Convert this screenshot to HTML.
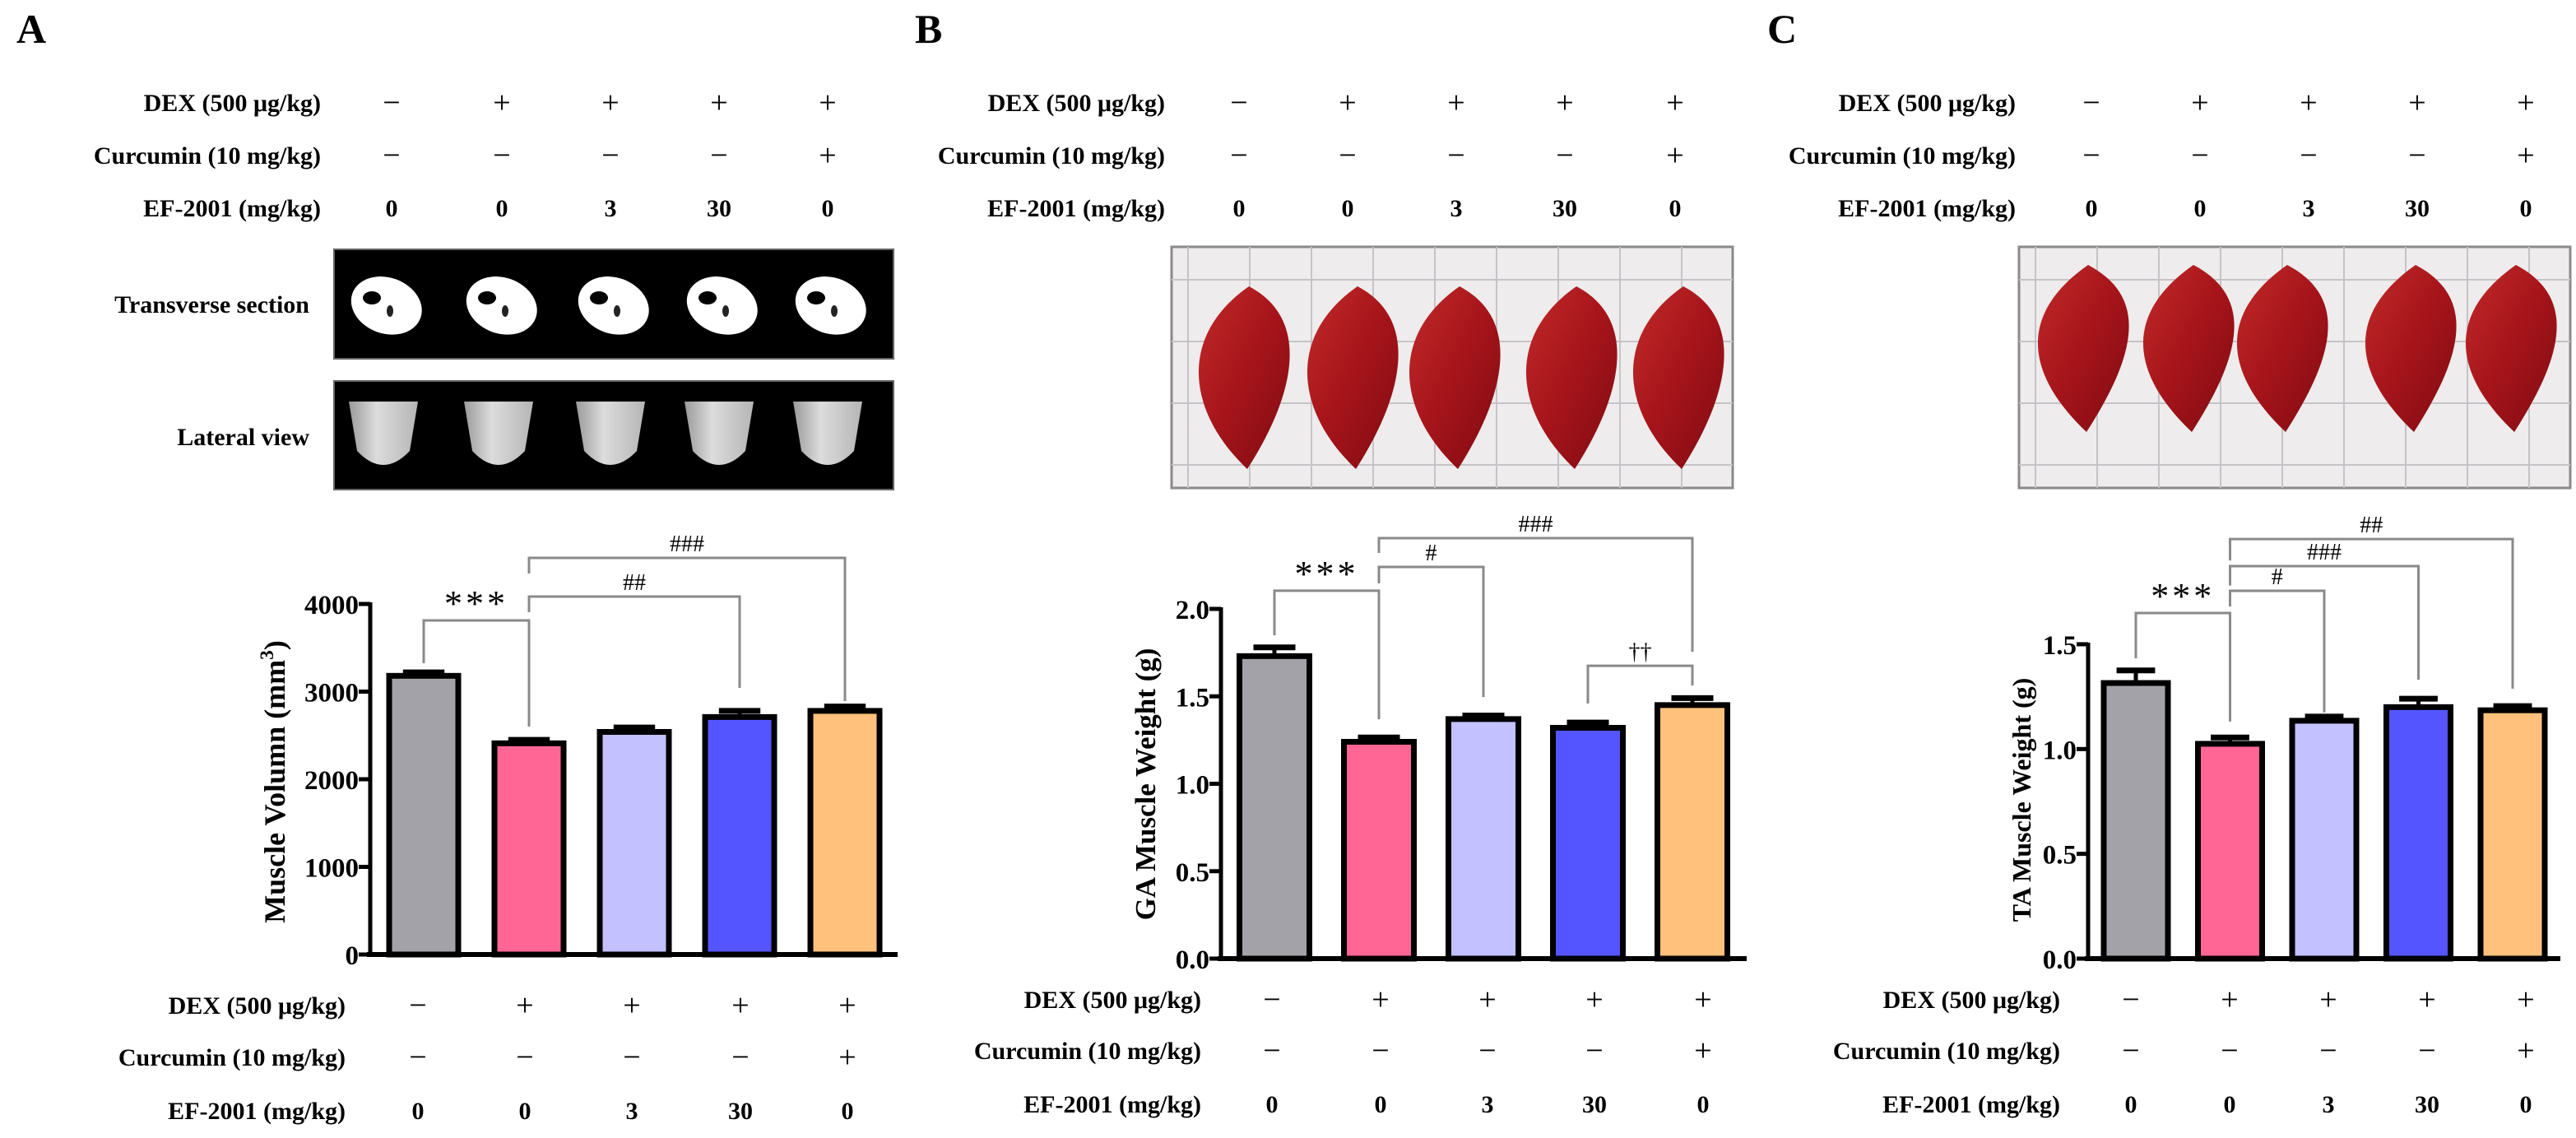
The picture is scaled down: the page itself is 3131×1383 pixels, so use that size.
<!DOCTYPE html>
<html><head><meta charset="utf-8"><style>
html,body{margin:0;padding:0;background:#fff;}
svg{display:block;}
text{font-family:"Liberation Serif",serif;}
</style></head>
<body>
<svg id="fig" width="3131" height="1383" viewBox="0 0 3131 1383" xmlns="http://www.w3.org/2000/svg">
<defs>
<linearGradient id="meat" x1="0" y1="0" x2="1" y2="1"><stop offset="0" stop-color="#c22a2a"/><stop offset="0.5" stop-color="#a5141a"/><stop offset="1" stop-color="#7e0c12"/></linearGradient>
<linearGradient id="cup" x1="0" y1="0" x2="1" y2="0"><stop offset="0" stop-color="#9a9a9a"/><stop offset="0.4" stop-color="#dcdcdc"/><stop offset="1" stop-color="#b5b5b5"/></linearGradient>
</defs>
<g id="static"></g>
<g id="charts"></g>
</svg>
<script>
// ===== Chart data =====
const groups = ["Control","DEX","DEX+EF3","DEX+EF30","DEX+Curcumin"];
const barColors = ["#a3a2a8","#ff6696","#c3c1ff","#5555ff","#ffc17c"];
const dexRow = ["\u2212","+","+","+","+"];
const curRow = ["\u2212","\u2212","\u2212","\u2212","+"];
const efRow = ["0","0","3","30","0"];

const volumeMeans = [3180, 2410, 2540, 2710, 2780];
const volumeErrs = [40, 40, 50, 70, 50];
const volumeTicks = [0, 1000, 2000, 3000, 4000];
const volumeTickLabels = ["0","1000","2000","3000","4000"];

const gaMeans = [1.73, 1.24, 1.37, 1.32, 1.45];
const gaErrs = [0.05, 0.025, 0.02, 0.03, 0.04];
const gaTicks = [0, 0.5, 1.0, 1.5, 2.0];
const gaTickLabels = ["0.0","0.5","1.0","1.5","2.0"];

const taMeans = [1.315, 1.025, 1.135, 1.20, 1.185];
const taErrs = [0.06, 0.03, 0.02, 0.04, 0.02];
const taTicks = [0, 0.5, 1.0, 1.5];
const taTickLabels = ["0.0","0.5","1.0","1.5"];

const volumeBrackets = [[0,1,3812,3324,2601,"***"],[1,3,4085,3906,3042,"##"],[1,4,4526,4347,2892,"###"]];
const gaBrackets = [[0,1,2.104,1.849,1.369,"***"],[1,2,2.24,2.146,1.496,"#"],[1,4,2.405,2.32,1.755,"###"],[3,4,1.675,1.459,1.562,"\u2020\u2020"]];
const taBrackets = [[0,1,1.649,1.433,1.131,"***"],[1,2,1.755,1.68,1.175,"#"],[1,3,1.873,1.78,1.331,"###"],[1,4,2.002,1.90,1.288,"##"]];

const NS = "http://www.w3.org/2000/svg";
function mk(parent, tag, attrs, txt){
  const e = document.createElementNS(NS, tag);
  for (const k in attrs) e.setAttribute(k, attrs[k]);
  if (txt !== undefined) e.textContent = txt;
  parent.appendChild(e);
  return e;
}
const st = document.getElementById("static");
const ch = document.getElementById("charts");

[["A",20],["B",1112],["C",2148]].forEach(([l,x])=>{
  const t = mk(st,"text",{x:x,y:52,"font-size":50,"font-weight":"bold"},l);
  
  
});

function table(labelRight, cols, rows, name){
  const g = mk(st,"g",{});
  
  
  const labels = ["DEX (500 \u03bcg/kg)","Curcumin (10 mg/kg)","EF-2001 (mg/kg)"];
  const data = [dexRow, curRow, efRow];
  rows.forEach((y,ri)=>{
    mk(g,"text",{x:labelRight,y:y+10,"font-size":30,"font-weight":"bold","text-anchor":"end"},labels[ri]);
    cols.forEach((x,ci)=>{
      const v = data[ri][ci];
      const isSign = (v==="+"||v==="\u2212");
      mk(g,"text",{x:x,y:y+(isSign?12:10),"font-size":isSign?38:30,"font-weight":isSign?"normal":"bold","text-anchor":"middle","font-family":isSign?"Liberation Sans, sans-serif":"Liberation Serif, serif"},v);
    });
  });
}
table(390,[476,610,742,874,1006],[125,189,253],"top-table-a");
table(1416,[1506,1638,1770,1902,2036],[125,189,253],"top-table-b");
table(2450,[2542,2674,2806,2938,3070],[125,189,253],"top-table-c");
table(420,[508,638,768,900,1030],[1222,1285,1350],"bottom-table-a");
table(1460,[1546,1678,1808,1938,2070],[1215,1277,1342],"bottom-table-b");
table(2504,[2590,2710,2830,2950,3070],[1215,1277,1342],"bottom-table-c");

(function(){
  const g = mk(st,"g",{});
  
  
  mk(g,"text",{x:376,y:380,"font-size":30,"font-weight":"bold","text-anchor":"end"},"Transverse section");
  mk(g,"text",{x:376,y:541,"font-size":30,"font-weight":"bold","text-anchor":"end"},"Lateral view");
  mk(g,"rect",{x:406,y:303,width:680,height:133,fill:"#000",stroke:"#666","stroke-width":2});
  mk(g,"rect",{x:406,y:463,width:680,height:132,fill:"#000",stroke:"#666","stroke-width":2});
  [466,606,742,874,1006].forEach((cx,i)=>{
    mk(g,"ellipse",{cx:cx+4,cy:370,rx:44,ry:34,fill:"#fff",transform:`rotate(${20} ${cx} 370)`});
    mk(g,"ellipse",{cx:cx-14,cy:362,rx:11,ry:8,fill:"#000"});
    mk(g,"ellipse",{cx:cx+8,cy:378,rx:4,ry:7,fill:"#222"});
    mk(g,"path",{d:`M${cx-42},488 L${cx+42},488 L${cx+32},548 Q${cx},582 ${cx-32},548 Z`,fill:"url(#cup)"});
  });
})();

function photo(x,y,w,h,cxs,top,bot,name){
  const g = mk(st,"g",{});
  
  
  mk(g,"rect",{x:x,y:y,width:w,height:h,fill:"#eeecec",stroke:"#8a8a8a","stroke-width":3});
  for(let gx=x+20; gx<x+w; gx+=75) mk(g,"line",{x1:gx,y1:y,x2:gx,y2:y+h,stroke:"#c4c4c8","stroke-width":2});
  for(let gy=y+40; gy<y+h; gy+=75) mk(g,"line",{x1:x,y1:gy,x2:x+w,y2:gy,stroke:"#c4c4c8","stroke-width":2});
  cxs.forEach((cx,i)=>{
    const hw = 66;
    mk(g,"path",{d:`M${cx+10},${top} C${cx+hw+20},${top+40} ${cx+hw},${bot-90} ${cx+8},${bot} C${cx-hw},${bot-70} ${cx-hw-10},${top+60} ${cx+10},${top} Z`,fill:"url(#meat)"});
  });
}
photo(1424,300,682,293,[1508,1640,1764,1906,2036],348,570,"ga-muscle-photo");
photo(2454,300,670,293,[2528,2656,2770,2926,3048],322,525,"ta-muscle-photo");

function chart(cfg){
  const g = mk(ch,"g",{});
  
  
  const yPx = v => cfg.y0 - v*cfg.k;
  const xPx = i => cfg.c0 + i*cfg.step;
  cfg.means.forEach((m,i)=>{
    const top = yPx(m), bw = cfg.bw;
    const eb = mk(g,"g",{});
    
    
    mk(eb,"line",{x1:xPx(i),y1:top,x2:xPx(i),y2:yPx(m+cfg.errs[i]),stroke:"#000","stroke-width":5});
    mk(eb,"line",{x1:xPx(i)-bw*0.3,y1:yPx(m+cfg.errs[i]),x2:xPx(i)+bw*0.3,y2:yPx(m+cfg.errs[i]),stroke:"#000","stroke-width":7});
    const r = mk(g,"rect",{x:xPx(i)-bw/2,y:top,width:bw,height:cfg.y0-top,fill:barColors[i],stroke:"#000","stroke-width":7});
    
    
  });
  const ax = mk(g,"g",{});
  
  
  const topV = cfg.ticks[cfg.ticks.length-1];
  mk(ax,"line",{x1:cfg.ax,y1:yPx(topV)-2,x2:cfg.ax,y2:cfg.y0,stroke:"#000","stroke-width":5});
  cfg.ticks.forEach((t,i)=>{
    mk(ax,"line",{x1:cfg.ax-14,y1:yPx(t),x2:cfg.ax,y2:yPx(t),stroke:"#000","stroke-width":5});
    const tl = mk(ax,"text",{x:cfg.ax-14,y:yPx(t)+12,"font-size":33,"font-weight":"bold","text-anchor":"end"},cfg.tickLabels[i]);
    
    
  });
  const xa = mk(g,"line",{x1:cfg.ax-4,y1:cfg.y0,x2:cfg.axEnd,y2:cfg.y0,stroke:"#000","stroke-width":6});
  
  
  const yt = mk(g,"text",{x:0,y:0,"font-size":cfg.titleSize,"font-weight":"bold","text-anchor":"middle",transform:`translate(${cfg.tx},${cfg.ty}) rotate(-90)`});
  
  
  yt.appendChild(document.createTextNode(cfg.title));
  if (cfg.sup){ mk(yt,"tspan",{dy:-14,"font-size":cfg.titleSize*0.65},cfg.sup); mk(yt,"tspan",{dy:14},")"); }
  cfg.brackets.forEach(b=>{
    const bg = mk(g,"g",{});
    
    
    const x1 = xPx(b[0]), x2 = xPx(b[1]), y = yPx(b[2]);
    mk(bg,"polyline",{points:`${x1},${yPx(b[3])} ${x1},${y} ${x2},${y} ${x2},${yPx(b[4])}`,fill:"none",stroke:"#8a8a8a","stroke-width":3});
    const star = b[5]==="***";
    mk(bg,"text",{x:(x1+x2)/2,y:star? y-6 : y-8,"font-size":star?44:28,"font-weight":"normal","text-anchor":"middle","letter-spacing":star?4:0},b[5]);
  });
}
chart({name:"chart-a-muscle-volume",means:volumeMeans,errs:volumeErrs,ticks:volumeTicks,tickLabels:volumeTickLabels,brackets:volumeBrackets,
  y0:1160,k:0.1065,c0:515,step:128,bw:84,ax:450,axEnd:1091,tx:346,ty:950,title:"Muscle Volumn (mm",sup:"3",titleSize:36});
chart({name:"chart-b-ga-weight",means:gaMeans,errs:gaErrs,ticks:gaTicks,tickLabels:gaTickLabels,brackets:gaBrackets,
  y0:1165,k:212.5,c0:1549,step:127,bw:85,ax:1484,axEnd:2123,tx:1404,ty:953,title:"GA Muscle Weight (g)",titleSize:35});
chart({name:"chart-c-ta-weight",means:taMeans,errs:taErrs,ticks:taTicks,tickLabels:taTickLabels,brackets:taBrackets,
  y0:1165,k:254.7,c0:2596,step:114.5,bw:78,ax:2538,axEnd:3112,tx:2468,ty:972,title:"TA Muscle Weight (g)",titleSize:32});
</script>
</body></html>
